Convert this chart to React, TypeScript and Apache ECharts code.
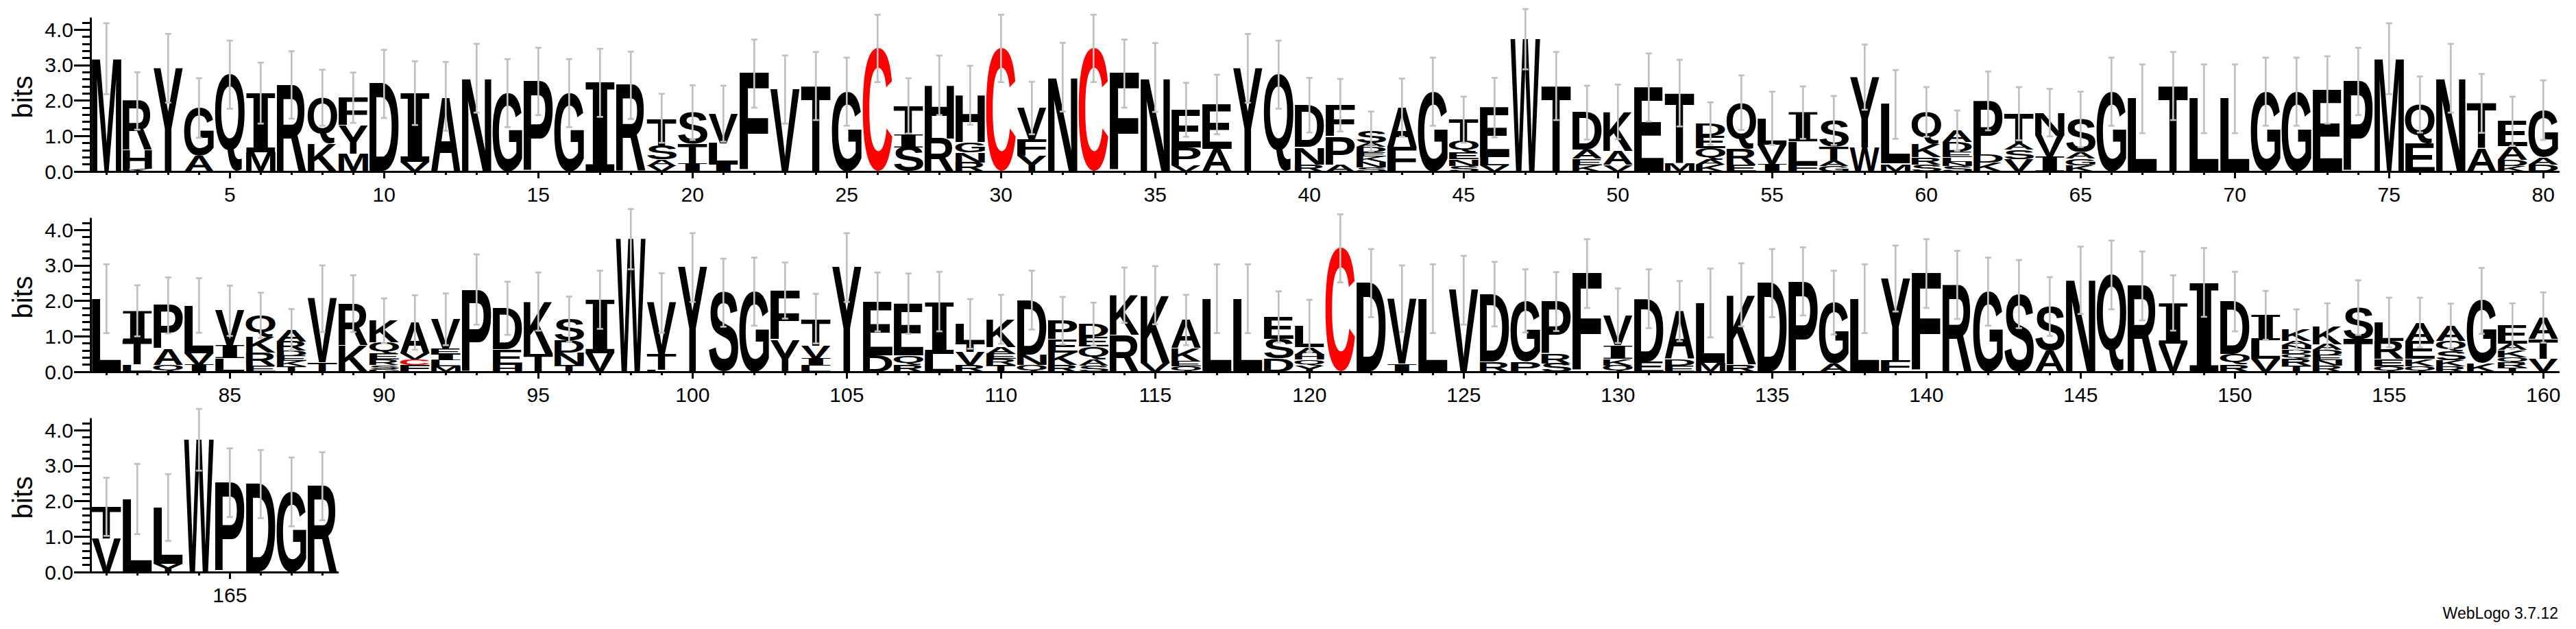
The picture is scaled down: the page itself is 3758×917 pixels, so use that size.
import React, { useEffect, useRef } from "react";
import * as echarts from "echarts";

type Stack = [string, number][];

// Letter stacks (bottom -> top, heights in bits), positions 1-80
const row1Stacks: Stack[] = [
  [["M", 3.18]],
  [["K", 0.08], ["H", 0.52], ["R", 1.39]],
  [["Y", 2.91]],
  [["A", 0.45], ["G", 1.34]],
  [["Q", 2.73]],
  [["M", 0.55], ["I", 1.66]],
  [["R", 2.44]],
  [["K", 0.79], ["Q", 1.29]],
  [["M", 0.5], ["Y", 0.8], ["F", 0.78]],
  [["D", 2.47]],
  [["V", 0.28], ["I", 1.93]],
  [["A", 2.12]],
  [["N", 2.63]],
  [["G", 2.21]],
  [["P", 2.54]],
  [["G", 2.21]],
  [["I", 2.5]],
  [["R", 2.43]],
  [["V", 0.16], ["A", 0.17], ["S", 0.41], ["T", 0.76]],
  [["I", 0.23], ["T", 0.55], ["S", 0.88]],
  [["I", 0.2], ["L", 0.58], ["V", 0.85]],
  [["F", 2.76]],
  [["V", 2.31]],
  [["T", 2.41]],
  [["G", 2.25]],
  [["C", 3.47]],
  [["S", 0.68], ["I", 0.38], ["T", 0.79]],
  [["R", 0.93], ["H", 1.5]],
  [["R", 0.26], ["N", 0.28], ["G", 0.28], ["H", 1.33]],
  [["C", 3.47]],
  [["Y", 0.44], ["F", 0.47], ["V", 0.88]],
  [["N", 2.66]],
  [["C", 3.47]],
  [["F", 2.76]],
  [["N", 2.65]],
  [["V", 0.17], ["P", 0.5], ["E", 1.07]],
  [["A", 0.64], ["E", 1.25]],
  [["Y", 2.91]],
  [["Q", 2.73]],
  [["R", 0.2], ["N", 0.48], ["D", 1.19]],
  [["A", 0.19], ["P", 0.79], ["F", 0.89]],
  [["S", 0.12], ["N", 0.16], ["K", 0.14], ["E", 0.13], ["D", 0.14], ["A", 0.12], ["S", 0.32]],
  [["F", 0.67], ["A", 1.13]],
  [["G", 2.25]],
  [["S", 0.16], ["N", 0.18], ["E", 0.2], ["Q", 0.33], ["T", 0.59]],
  [["V", 0.18], ["L", 0.22], ["E", 1.4]],
  [["W", 3.73]],
  [["T", 2.41]],
  [["K", 0.18], ["E", 0.18], ["A", 0.24], ["D", 1.06]],
  [["V", 0.18], ["A", 0.4], ["K", 1.1]],
  [["E", 2.37]],
  [["M", 0.22], ["T", 1.99]],
  [["K", 0.19], ["A", 0.15], ["Q", 0.32], ["E", 0.35], ["D", 0.34]],
  [["E", 0.2], ["R", 0.45], ["Q", 1.29]],
  [["I", 0.2], ["V", 0.55], ["L", 0.75]],
  [["F", 0.2], ["L", 0.65], ["I", 0.81]],
  [["G", 0.16], ["A", 0.15], ["T", 0.4], ["S", 0.73]],
  [["W", 0.67], ["Y", 1.99]],
  [["M", 0.21], ["L", 1.68]],
  [["S", 0.2], ["R", 0.2], ["K", 0.37], ["Q", 0.91]],
  [["S", 0.15], ["N", 0.13], ["L", 0.13], ["E", 0.14], ["D", 0.28], ["A", 0.32]],
  [["K", 0.24], ["D", 0.22], ["P", 1.53]],
  [["V", 0.35], ["S", 0.26], ["A", 0.17], ["T", 0.85]],
  [["I", 0.43], ["V", 0.58], ["N", 0.65]],
  [["K", 0.18], ["G", 0.18], ["A", 0.18], ["S", 0.93]],
  [["G", 2.25]],
  [["L", 2.05]],
  [["T", 2.41]],
  [["L", 2.05]],
  [["L", 2.05]],
  [["G", 2.25]],
  [["G", 2.25]],
  [["E", 2.3]],
  [["P", 2.54]],
  [["M", 3.18]],
  [["E", 0.8], ["Q", 1.09]],
  [["N", 2.63]],
  [["A", 0.65], ["T", 1.27]],
  [["K", 0.16], ["D", 0.17], ["A", 0.38], ["E", 0.71]],
  [["D", 0.2], ["A", 0.2], ["G", 1.33]],
];
const row1Errors: number[] = [
  1.0, 0.81, 0.97, 0.84, 0.96, 0.86, 0.95, 0.79, 0.71, 0.96,
  0.9, 0.97, 0.97, 0.96, 0.95, 0.96, 0.96, 0.95, 0.69, 0.77,
  0.79, 0.96, 0.96, 0.96, 0.96, 0.95, 0.78, 0.84, 0.83, 0.95,
  0.74, 0.97, 0.95, 0.96, 0.97, 0.76, 0.84, 0.97, 0.96, 0.77,
  0.74, 0.56, 0.82, 0.96, 0.65, 0.84, 0.85, 0.96, 0.76, 0.77,
  0.96, 0.94, 0.6, 0.77, 0.75, 0.74, 0.69, 0.92, 0.97, 0.7,
  0.57, 0.83, 0.75, 0.67, 0.78, 0.96, 0.97, 0.96, 0.97, 0.97,
  0.96, 0.96, 0.95, 0.95, 1.0, 0.79, 0.97, 0.83, 0.69, 0.84,
];

// positions 81-160
const row2Stacks: Stack[] = [
  [["L", 2.06]],
  [["L", 0.2], ["T", 0.68], ["I", 0.84]],
  [["Q", 0.2], ["A", 0.44], ["P", 1.23]],
  [["I", 0.2], ["V", 0.33], ["L", 1.34]],
  [["L", 0.38], ["I", 0.36], ["V", 0.98]],
  [["E", 0.17], ["R", 0.37], ["K", 0.44], ["Q", 0.61]],
  [["T", 0.16], ["K", 0.14], ["E", 0.15], ["D", 0.15], ["R", 0.26], ["A", 0.33]],
  [["T", 0.25], ["V", 1.81]],
  [["K", 0.76], ["R", 1.16]],
  [["G", 0.08], ["S", 0.11], ["R", 0.15], ["E", 0.17], ["Q", 0.31], ["K", 0.62]],
  [["F", 0.19], ["C", 0.16], ["V", 0.17], ["A", 0.87]],
  [["M", 0.16], ["L", 0.16], ["I", 0.17], ["E", 0.16], ["V", 0.83]],
  [["P", 2.32]],
  [["H", 0.2], ["E", 0.42], ["D", 1.17]],
  [["T", 0.49], ["K", 1.49]],
  [["T", 0.2], ["N", 0.34], ["D", 0.34], ["S", 0.6]],
  [["V", 0.53], ["I", 1.5]],
  [["W", 3.74]],
  [["L", 0.05], ["T", 0.44], ["V", 1.45]],
  [["Y", 2.94]],
  [["S", 2.23]],
  [["G", 2.26]],
  [["Y", 0.9], ["F", 1.39]],
  [["L", 0.17], ["I", 0.2], ["V", 0.37], ["T", 0.76]],
  [["Y", 2.94]],
  [["D", 0.47], ["E", 1.5]],
  [["R", 0.19], ["Q", 0.27], ["E", 1.46]],
  [["L", 0.52], ["I", 1.46]],
  [["R", 0.19], ["V", 0.37], ["T", 0.25], ["L", 0.54]],
  [["T", 0.19], ["R", 0.17], ["E", 0.15], ["A", 0.19], ["K", 0.78]],
  [["Q", 0.19], ["N", 0.3], ["D", 1.53]],
  [["R", 0.19], ["K", 0.36], ["E", 0.36], ["P", 0.53]],
  [["S", 0.18], ["A", 0.17], ["Q", 0.36], ["E", 0.27], ["D", 0.36]],
  [["R", 1.04], ["K", 1.12]],
  [["V", 0.25], ["K", 1.91]],
  [["Q", 0.15], ["E", 0.14], ["K", 0.38], ["A", 0.79]],
  [["L", 2.06]],
  [["L", 2.06]],
  [["D", 0.37], ["S", 0.56], ["E", 0.62]],
  [["Y", 0.17], ["Q", 0.17], ["H", 0.15], ["A", 0.2], ["L", 0.6]],
  [["C", 3.48]],
  [["D", 2.5]],
  [["I", 0.22], ["V", 1.84]],
  [["L", 2.06]],
  [["V", 2.3]],
  [["R", 0.28], ["D", 1.91]],
  [["P", 0.28], ["G", 1.72]],
  [["S", 0.24], ["R", 0.26], ["P", 1.48]],
  [["F", 2.77]],
  [["Q", 0.18], ["K", 0.18], ["I", 0.38], ["V", 0.84]],
  [["E", 0.29], ["D", 1.77]],
  [["E", 0.17], ["D", 0.18], ["A", 1.36]],
  [["M", 0.25], ["L", 1.69]],
  [["R", 0.2], ["K", 1.97]],
  [["D", 2.5]],
  [["P", 2.55]],
  [["A", 0.22], ["G", 1.73]],
  [["L", 2.06]],
  [["F", 0.32], ["Y", 2.31]],
  [["F", 2.77]],
  [["R", 2.45]],
  [["G", 2.26]],
  [["S", 2.19]],
  [["A", 0.6], ["S", 1.24]],
  [["N", 2.58]],
  [["Q", 2.73]],
  [["R", 2.42]],
  [["V", 0.8], ["I", 1.14]],
  [["I", 2.52]],
  [["R", 0.2], ["Q", 0.3], ["D", 1.48]],
  [["V", 0.37], ["L", 0.52], ["I", 0.7]],
  [["T", 0.18], ["R", 0.2], ["Q", 0.13], ["D", 0.12], ["N", 0.12], ["A", 0.12], ["K", 0.32]],
  [["R", 0.17], ["N", 0.16], ["E", 0.14], ["D", 0.14], ["A", 0.17], ["K", 0.51]],
  [["T", 0.92], ["S", 0.89]],
  [["Q", 0.16], ["E", 0.2], ["R", 0.5], ["L", 0.53]],
  [["Q", 0.16], ["K", 0.2], ["E", 0.5], ["A", 0.53]],
  [["R", 0.15], ["K", 0.17], ["S", 0.25], ["Q", 0.3], ["A", 0.42]],
  [["K", 0.22], ["G", 1.78]],
  [["T", 0.12], ["R", 0.14], ["Q", 0.15], ["K", 0.2], ["A", 0.17], ["E", 0.51]],
  [["V", 0.37], ["T", 0.56], ["A", 0.6]],
];
const row2Errors: number[] = [
  0.97, 0.72, 0.79, 0.77, 0.71, 0.64, 0.58, 0.94, 0.8, 0.63,
  0.77, 0.73, 0.99, 0.75, 0.82, 0.64, 0.82, 0.85, 0.84, 0.97,
  0.96, 0.96, 0.79, 0.7, 0.97, 0.83, 0.85, 0.84, 0.7, 0.69,
  0.83, 0.67, 0.61, 0.78, 0.82, 0.71, 0.97, 0.97, 0.72, 0.74,
  0.96, 0.96, 0.94, 0.97, 0.97, 0.91, 0.89, 0.83, 0.97, 0.77,
  0.83, 0.85, 0.97, 0.89, 0.96, 0.96, 0.9, 0.97, 0.93, 0.97,
  0.96, 0.96, 0.96, 0.83, 0.95, 0.97, 0.97, 0.78, 0.97, 0.84,
  0.69, 0.57, 0.64, 0.77, 0.7, 0.7, 0.63, 0.93, 0.64, 0.71,
];

// positions 161-168
const row3Stacks: Stack[] = [
  [["V", 0.94], ["T", 0.9]],
  [["L", 2.06]],
  [["Y", 0.23], ["L", 1.59]],
  [["W", 3.73]],
  [["P", 2.52]],
  [["D", 2.48]],
  [["G", 2.26]],
  [["R", 2.42]],
];
const row3Errors: number[] = [0.82, 0.99, 0.94, 0.87, 0.97, 0.96, 0.97, 0.96];

const rowStarts = [1, 81, 161];
const rowEnds = [80, 160, 168];
const row1Labels = [5, 10, 15, 20, 25, 30, 35, 40, 45, 50, 55, 60, 65, 70, 75, 80];
const row2Labels = [85, 90, 95, 100, 105, 110, 115, 120, 125, 130, 135, 140, 145, 150, 155, 160];
const row3Labels = [165];
const yLabels = [0, 1, 2, 3, 4];
const yMinor = [0.2, 0.4, 0.6, 0.8, 1.2, 1.4, 1.6, 1.8, 2.2, 2.4, 2.6, 2.8, 3.2, 3.4, 3.6, 3.8, 4.2];
const Y_MAX = 4.32;

const SANS = 'bold 100px "Liberation Sans"';
const SERIF = 'bold 100px "DejaVu Serif"';
const LABEL_FONT = '"Liberation Sans", Arial, sans-serif';

type Glyph = { w: number; h: number; cx: number; cy: number; font: string };

function measureGlyphs(): Record<string, Glyph> {
  const out: Record<string, Glyph> = {};
  const NS = "http://www.w3.org/2000/svg";
  const svg = document.createElementNS(NS, "svg");
  svg.setAttribute("width", "600");
  svg.setAttribute("height", "600");
  (svg as any).style.position = "absolute";
  (svg as any).style.left = "-2000px";
  (svg as any).style.top = "0px";
  document.body.appendChild(svg);
  const central: Record<string, number> = {};
  for (const font of [SANS, SERIF]) {
    const t1 = document.createElementNS(NS, "text");
    const t2 = document.createElementNS(NS, "text");
    for (const t of [t1, t2]) {
      t.setAttribute("x", "100");
      t.setAttribute("y", "300");
      t.setAttribute("style", "font:" + font);
      t.textContent = "M";
      svg.appendChild(t);
    }
    t1.setAttribute("dominant-baseline", "central");
    let c = 34.67;
    try {
      const b1 = (t1 as any).getBBox();
      const b2 = (t2 as any).getBBox();
      const d = b1.y - b2.y;
      if (isFinite(d) && d > 5 && d < 60) c = d;
    } catch (e) {}
    central[font] = c;
  }
  svg.remove();
  const canvas = document.createElement("canvas");
  const ctx = canvas.getContext("2d")!;
  const letters = "ACDEFGHIKLMNPQRSTVWY";
  for (const ch of letters) {
    const font = ch === "I" ? SERIF : SANS;
    ctx.font = font;
    ctx.textAlign = "center";
    ctx.textBaseline = "alphabetic";
    const m = ctx.measureText(ch);
    const L = m.actualBoundingBoxLeft;
    const R = m.actualBoundingBoxRight;
    const A = m.actualBoundingBoxAscent;
    const D = m.actualBoundingBoxDescent;
    out[ch] = {
      w: L + R,
      h: A + D,
      cx: (R - L) / 2,
      cy: central[font] + (D - A) / 2,
      font,
    };
  }
  return out;
}

function buildRow(stacks: Stack[], start: number) {
  const items: { pos: number; y0: number; y1: number; ch: string }[] = [];
  const tops: number[] = [];
  stacks.forEach((st, i) => {
    let y = 0;
    const pos = start + i;
    st.forEach(([ch, h]) => {
      items.push({ pos, y0: y, y1: y + h, ch });
      y += h;
    });
    tops.push(y);
  });
  return { items, tops };
}

export default function App() {
  const ref = useRef<HTMLDivElement>(null);
  useEffect(() => {
    if (!ref.current) return;
    const glyphs = measureGlyphs();
    const chart = echarts.init(ref.current, undefined, { renderer: "svg" });

    const rows = [
      { stacks: row1Stacks, errors: row1Errors, labels: row1Labels },
      { stacks: row2Stacks, errors: row2Errors, labels: row2Labels },
      { stacks: row3Stacks, errors: row3Errors, labels: row3Labels },
    ];
    const baselines = [250, 542, 834];
    const pxPerBit = 51.7;
    const colW = 45;
    const axisLeft = 132;
    const firstCenter = 155.3;
    const minOffset = (firstCenter - axisLeft) / colW;

    const grid: any[] = [];
    const xAxis: any[] = [];
    const yAxis: any[] = [];
    const series: any[] = [];

    rows.forEach((row, r) => {
      const start = rowStarts[r];
      const end = rowEnds[r];
      const xmin = start - minOffset;
      const xmax = end + 0.5;
      const width = (xmax - xmin) * colW;
      const h = Y_MAX * pxPerBit;
      grid.push({
        left: axisLeft,
        top: baselines[r] - h,
        width,
        height: h,
        containLabel: false,
        outerBoundsMode: "none",
      });
      const ints: number[] = [];
      for (let p = start; p <= end; p++) ints.push(p);
      xAxis.push({
        type: "value",
        gridIndex: r,
        position: "bottom",
        min: xmin,
        max: xmax,
        axisLine: { show: true, onZero: false, lineStyle: { color: "#000", width: 3 } },
        axisTick: { show: true, customValues: ints, length: 5, lineStyle: { color: "#000", width: 3 } },
        axisLabel: { show: false },
        splitLine: { show: false },
      });
      xAxis.push({
        type: "value",
        gridIndex: r,
        position: "bottom",
        offset: 0,
        min: xmin,
        max: xmax,
        axisLine: { show: false, onZero: false },
        axisTick: { show: true, customValues: row.labels, length: 10, lineStyle: { color: "#000", width: 3 } },
        axisLabel: {
          show: true,
          customValues: row.labels,
          fontSize: 30,
          fontFamily: LABEL_FONT,
          color: "#000",
          margin: 18,
          hideOverlap: false,
        },
        splitLine: { show: false },
      });
      yAxis.push({
        type: "value",
        gridIndex: r,
        position: "left",
        min: 0,
        max: Y_MAX,
        axisLine: { show: true, onZero: false, lineStyle: { color: "#000", width: 3 } },
        axisTick: { show: true, customValues: yLabels, length: 24, lineStyle: { color: "#000", width: 3 } },
        axisLabel: {
          show: true,
          customValues: yLabels,
          formatter: (v: number) => Number(v).toFixed(1),
          fontSize: 30,
          fontFamily: LABEL_FONT,
          color: "#000",
          margin: 25,
          hideOverlap: false,
        },
        splitLine: { show: false },
      });
      yAxis.push({
        type: "value",
        gridIndex: r,
        position: "left",
        offset: 0,
        min: 0,
        max: Y_MAX,
        axisLine: { show: false, onZero: false },
        axisTick: { show: true, customValues: yMinor, length: 12, lineStyle: { color: "#000", width: 3 } },
        axisLabel: { show: false },
        splitLine: { show: false },
      });

      const { items, tops } = buildRow(row.stacks, start);
      series.push({
        type: "custom",
        coordinateSystem: "cartesian2d",
        xAxisIndex: 2 * r,
        yAxisIndex: 2 * r,
        silent: true,
        clip: false,
        z: 2,
        encode: { x: 0, y: [1, 2] },
        data: items.map((it) => [it.pos, it.y0, it.y1]),
        renderItem: (params: any, api: any) => {
          const it = items[params.dataIndex];
          const g = glyphs[it.ch];
          if (!g) return null;
          const p0 = api.coord([it.pos - 0.5, it.y0]);
          const p1 = api.coord([it.pos + 0.5, it.y1]);
          const left = p0[0] + 0.8;
          const right = p1[0] - 0.8;
          const bottom = p0[1];
          const top = p1[1];
          const hh = bottom - top;
          if (hh < 0.3) return null;
          const sx = (right - left) / g.w;
          const sy = hh / g.h;
          const mx = (left + right) / 2;
          const my = (top + bottom) / 2;
          return {
            type: "text",
            x: mx - g.cx * sx,
            y: my - g.cy * sy,
            scaleX: sx,
            scaleY: sy,
            silent: true,
            style: {
              text: it.ch,
              font: g.font,
              fill: it.ch === "C" ? "#ff0000" : "#000000",
              align: "center",
              verticalAlign: "middle",
            },
          };
        },
      });
      series.push({
        type: "custom",
        coordinateSystem: "cartesian2d",
        xAxisIndex: 2 * r,
        yAxisIndex: 2 * r,
        silent: true,
        clip: false,
        z: 3,
        encode: { x: 0, y: 1 },
        data: tops.map((t, i) => [start + i, t, row.errors[i]]),
        renderItem: (params: any, api: any) => {
          const pos = api.value(0);
          const t = api.value(1);
          const e = api.value(2);
          const hi = api.coord([pos, t + e]);
          const lo = api.coord([pos, t - e]);
          const x = hi[0];
          const st = { stroke: "#c0c0c0", lineWidth: 2.7 };
          return {
            type: "group",
            children: [
              { type: "line", shape: { x1: x, y1: hi[1], x2: x, y2: lo[1] }, style: st },
              { type: "line", shape: { x1: x - 4.5, y1: hi[1], x2: x + 4.5, y2: hi[1] }, style: st },
              { type: "line", shape: { x1: x - 4.5, y1: lo[1], x2: x + 4.5, y2: lo[1] }, style: st },
            ],
          };
        },
      });
    });

    const graphic: any[] = baselines.map((b) => ({
      type: "text",
      x: 33,
      y: b - (Y_MAX * pxPerBit) / 2 + 3,
      rotation: Math.PI / 2,
      style: {
        text: "bits",
        font: '40px "Liberation Sans"',
        fill: "#000",
        align: "center",
        verticalAlign: "middle",
      },
    }));
    graphic.push({
      type: "text",
      x: 3732,
      y: 894,
      style: {
        text: "WebLogo 3.7.12",
        font: '23px "Liberation Sans"',
        fill: "#000",
        align: "right",
        verticalAlign: "middle",
      },
    });

    chart.setOption({
      animation: false,
      backgroundColor: "#ffffff",
      grid,
      xAxis,
      yAxis,
      series,
      graphic,
    });
    return () => chart.dispose();
  }, []);
  return (
    <div
      ref={ref}
      style={{ position: "absolute", left: 0, top: 0, width: 3758, height: 917, background: "#fff" }}
    />
  );
}
